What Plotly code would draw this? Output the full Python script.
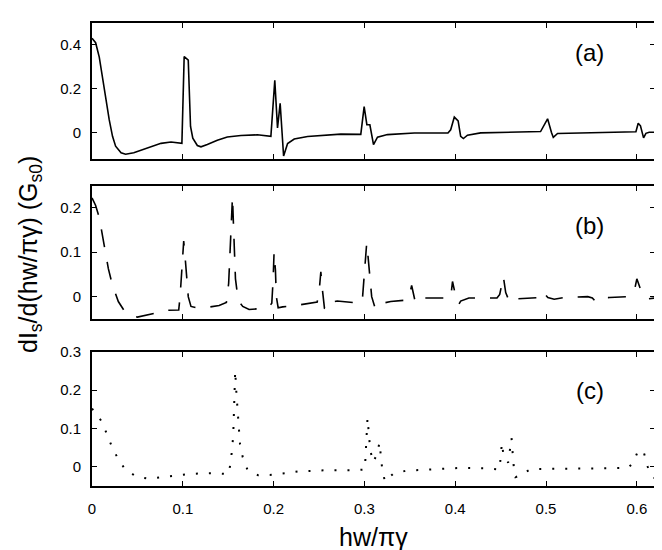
import plotly.graph_objects as go

# ---------------- data ----------------
xa = [0.0, 0.004, 0.008, 0.0115, 0.015, 0.019, 0.0226, 0.026, 0.032, 0.037, 0.046, 0.061, 0.076,
      0.087, 0.094, 0.099, 0.1015, 0.1045, 0.106, 0.1085, 0.111, 0.116, 0.12, 0.127, 0.138, 0.149,
      0.164, 0.182, 0.197, 0.2013, 0.2043, 0.2072, 0.211, 0.2154, 0.2227, 0.2374, 0.256, 0.274,
      0.296, 0.2997, 0.3027, 0.306, 0.31, 0.3144, 0.3254, 0.355, 0.392, 0.395, 0.399, 0.4032,
      0.406, 0.409, 0.4135, 0.428, 0.494, 0.5017, 0.506, 0.508, 0.5127, 0.538, 0.599, 0.6015,
      0.604, 0.6074, 0.61, 0.6136, 0.62]
ya = [0.43, 0.41, 0.344, 0.253, 0.148, 0.057, -0.018, -0.063, -0.093, -0.10, -0.093, -0.07, -0.05,
      -0.044, -0.047, -0.05, 0.347, 0.337, 0.33, 0.027, -0.026, -0.06, -0.066, -0.055, -0.036, -0.021,
      -0.014, -0.011, -0.018, 0.238, 0.02, 0.133, -0.108, -0.051, -0.03, -0.019, -0.012, -0.008,
      -0.009, 0.118, 0.035, 0.035, -0.056, -0.022, -0.01, -0.003, -0.003, 0.012, 0.07, 0.053,
      -0.018, -0.028, -0.013, -0.002, 0.004, 0.062, 0.0, -0.023, -0.005, -0.002, 0.003, 0.042,
      0.03, -0.025, -0.004, 0.001, 0.001]

xb = [0.0, 0.004, 0.008, 0.011, 0.014, 0.018, 0.0225, 0.029, 0.035, 0.041, 0.05, 0.06, 0.07, 0.08,
      0.09, 0.0955, 0.097, 0.099, 0.101, 0.1025, 0.104, 0.106, 0.109, 0.115, 0.127, 0.14, 0.148,
      0.1505, 0.152, 0.1535, 0.1547, 0.156, 0.158, 0.161, 0.166, 0.173, 0.185, 0.195, 0.198,
      0.1995, 0.2005, 0.202, 0.203, 0.205, 0.21, 0.221, 0.239, 0.248, 0.2505, 0.252, 0.2535,
      0.256, 0.259, 0.264, 0.27, 0.285, 0.296, 0.298, 0.3005, 0.3025, 0.304, 0.306, 0.308, 0.312,
      0.317, 0.329, 0.345, 0.349, 0.352, 0.356, 0.36, 0.364, 0.38, 0.395, 0.397, 0.4005, 0.404,
      0.406, 0.415, 0.435, 0.446, 0.449, 0.453, 0.4556, 0.46, 0.467, 0.48, 0.495, 0.497, 0.502,
      0.509, 0.52, 0.546, 0.551, 0.554, 0.558, 0.57, 0.59, 0.597, 0.6, 0.606, 0.612, 0.62]
yb = [0.222, 0.205, 0.178, 0.143, 0.103, 0.063, 0.026, -0.011, -0.03, -0.042, -0.046, -0.042,
      -0.037, -0.031, -0.03, -0.03, 0.0, 0.06, 0.125, 0.09, 0.045, 0.0, -0.022, -0.025, -0.024,
      -0.02, -0.013, 0.03, 0.1, 0.18, 0.225, 0.15, 0.04, -0.009, -0.022, -0.029, -0.027, -0.022,
      -0.015, 0.04, 0.1, 0.06, 0.0, -0.025, -0.023, -0.021, -0.016, -0.012, 0.02, 0.056, 0.02,
      -0.026, -0.03, -0.012, -0.01, -0.012, -0.015, 0.0, 0.06, 0.12, 0.09, 0.04, 0.0, -0.027,
      -0.016, -0.011, -0.008, -0.003, 0.025, -0.012, -0.013, -0.003, -0.003, -0.003, 0.034, 0.001,
      -0.017, -0.01, -0.003, -0.002, -0.003, 0.005, 0.045, 0.009, -0.013, -0.005, -0.003, -0.002,
      0.01, -0.002, -0.006, -0.002, 0.0, -0.003, -0.01, -0.003, -0.002, 0.0, 0.01, 0.04, 0.005,
      -0.005, -0.003]

xc = [0.0, 0.0108, 0.0163, 0.0218, 0.028, 0.036, 0.0483, 0.0622, 0.0769, 0.0916, 0.1063, 0.121,
      0.1357, 0.1503, 0.1529, 0.1555, 0.1562, 0.1577, 0.159, 0.161, 0.163, 0.166, 0.1712, 0.1829,
      0.1976, 0.2123, 0.2274, 0.2568, 0.2862, 0.3005, 0.3016, 0.3034, 0.3052, 0.3063, 0.3096,
      0.3137, 0.3166, 0.318, 0.3195, 0.3225, 0.3313, 0.346, 0.3753, 0.4047, 0.4345, 0.4488,
      0.4514, 0.4532, 0.4583, 0.462, 0.4642, 0.4664, 0.4712, 0.483, 0.59, 0.596, 0.601, 0.605,
      0.608, 0.612, 0.617, 0.62]
yc = [0.152, 0.118, 0.086, 0.053, 0.024, -0.005, -0.025, -0.031, -0.027, -0.023, -0.019, -0.017,
      -0.017, -0.019, 0.013, 0.08, 0.148, 0.25, 0.193, 0.126, 0.059, 0.025, -0.008, -0.022,
      -0.021, -0.017, -0.012, -0.009, -0.009, -0.007, 0.059, 0.127, 0.078, 0.045, 0.012, 0.032,
      0.063, 0.029, -0.004, -0.038, -0.019, -0.01, -0.006, -0.003, -0.004, -0.007, 0.062, 0.029,
      0.011, 0.075, 0.006, -0.027, -0.022, -0.006, -0.003, 0.01, 0.04, 0.03, 0.035, 0.0, -0.025,
      -0.03]

x_ticks = [0, 0.1, 0.2, 0.3, 0.4, 0.5, 0.6]
x_ticklabels = ["0", "0.1", "0.2", "0.3", "0.4", "0.5", "0.6"]
panel_labels = ["(a)", "(b)", "(c)"]
x_title = "hw/πγ"
y_title = "dI<sub>s</sub>/d(hw/πγ) (G<sub>s0</sub>)"

# ---------------- figure ----------------
FONT = "Liberation Sans, Arial, sans-serif"
fig = go.Figure()
fig.add_trace(go.Scatter(x=xa, y=ya, mode="lines", line=dict(color="black", width=1.6),
                         xaxis="x", yaxis="y", showlegend=False))
fig.add_trace(go.Scatter(x=xb, y=yb, mode="lines",
                         line=dict(color="black", width=1.6, dash="18px,15px"),
                         xaxis="x2", yaxis="y2", showlegend=False))
fig.add_trace(go.Scatter(x=xc, y=yc, mode="lines",
                         line=dict(color="black", width=2, dash="2px,11px"),
                         xaxis="x3", yaxis="y3", showlegend=False))

axis_common = dict(showline=True, linecolor="black", linewidth=2, mirror="ticks",
                   ticks="inside", ticklen=5, tickwidth=1.3, tickcolor="black",
                   showgrid=False, zeroline=False,
                   tickfont=dict(family=FONT, size=15, color="black"))

for i, (xn, yn, dom, yr, yt) in enumerate([
        ("xaxis", "yaxis", [0.707, 1.0], [-0.12, 0.5], [0, 0.2, 0.4]),
        ("xaxis2", "yaxis2", [0.361, 0.649], [-0.05, 0.25], [0, 0.1, 0.2]),
        ("xaxis3", "yaxis3", [0.0, 0.29], [-0.05, 0.3], [0, 0.1, 0.2, 0.3])]):
    suffix = "" if i == 0 else str(i + 1)
    fig.layout[xn] = dict(axis_common, range=[0, 0.62], domain=[0, 1], anchor="y" + suffix,
                          tickvals=x_ticks, ticktext=x_ticklabels,
                          showticklabels=(i == 2), ticklabelstandoff=8)
    fig.layout[yn] = dict(axis_common, range=yr, domain=dom, anchor="x" + suffix,
                          tickvals=yt, ticktext=[("%g" % v) for v in yt],
                          ticklabelstandoff=6)

label_pos = [(0.548, 0.365, "x", "y"), (0.548, 0.161, "x2", "y2"), (0.548, 0.2, "x3", "y3")]
annotations = []
for (lx, ly, xr, yr_), txt in zip(label_pos, panel_labels):
    annotations.append(dict(x=lx, y=ly, xref=xr, yref=yr_, text=txt, showarrow=False,
                            xanchor="center", yanchor="middle",
                            font=dict(family=FONT, size=24, color="black")))
annotations.append(dict(x=0.5, y=-0.11, xref="paper", yref="paper", text=x_title,
                        showarrow=False, xanchor="center", yanchor="middle",
                        font=dict(family=FONT, size=25, color="black")))
annotations.append(dict(x=-0.111, y=0.50, xref="paper", yref="paper", text=y_title,
                        showarrow=False, xanchor="center", yanchor="middle", textangle=-90,
                        font=dict(family=FONT, size=25, color="black")))

fig.update_layout(width=662, height=550, margin=dict(l=84, r=15, t=6, b=72),
                  paper_bgcolor="white", plot_bgcolor="white", annotations=annotations,
                  showlegend=False)

fig.write_html("out.html")
